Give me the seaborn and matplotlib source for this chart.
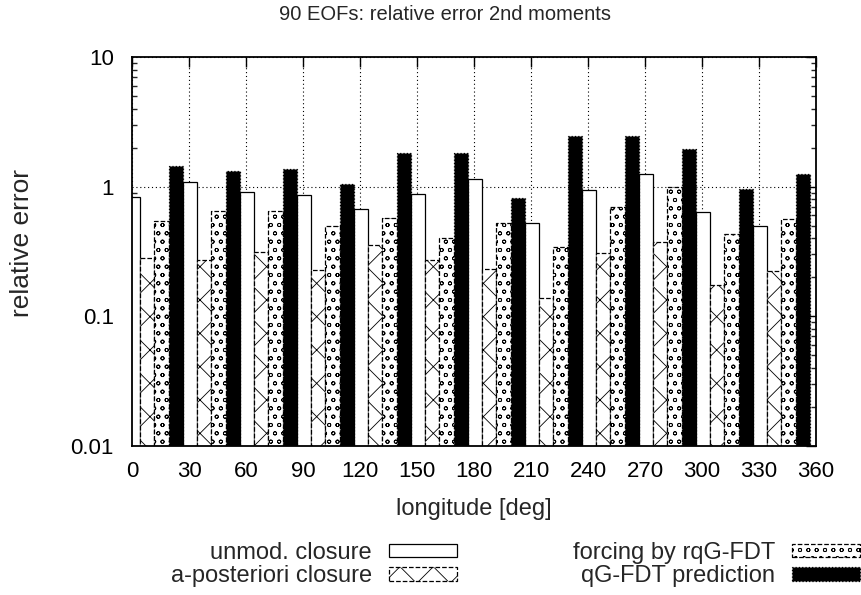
import numpy as np
import pandas as pd
import matplotlib
matplotlib.use("Agg")
import matplotlib.pyplot as plt
from matplotlib.patches import Patch
from matplotlib.ticker import LogLocator, NullFormatter, FixedLocator
import seaborn as sns

# ---- data ----
longitude = [0, 30, 60, 90, 120, 150, 180, 210, 240, 270, 300, 330]
unmod_closure = [0.83, 1.09, 0.915, 0.868, 0.673, 0.883, 1.146, 0.525, 0.948, 1.25, 0.638, 0.494]
aposteriori_closure = [0.28, 0.274, 0.313, 0.229, 0.355, 0.272, 0.232, 0.139, 0.308, 0.375, 0.175, 0.222]
forcing_rqg_fdt = [0.54, 0.65, 0.65, 0.50, 0.574, 0.40, 0.52, 0.344, 0.70, 0.99, 0.43, 0.567]
qg_fdt_prediction = [1.45, 1.33, 1.38, 1.054, 1.82, 1.83, 0.82, 2.47, 2.44, 1.94, 0.965, 1.26]
series_names = ["unmod. closure", "a-posteriori closure", "forcing by rqG-FDT", "qG-FDT prediction"]
x_ticks = [0, 30, 60, 90, 120, 150, 180, 210, 240, 270, 300, 330, 360]

series_values = [unmod_closure, aposteriori_closure, forcing_rqg_fdt, qg_fdt_prediction]
rows = []
for name, vals in zip(series_names, series_values):
    for lon, v in zip(longitude, vals):
        rows.append({"pos": lon + 11.75, "value": v, "series": name})
df = pd.DataFrame(rows)

sns.set_theme(style="white")
plt.rcParams["font.family"] = ["Liberation Sans", "DejaVu Sans"]
plt.rcParams["hatch.linewidth"] = 0.6

fig = plt.figure(figsize=(8.62, 5.95), dpi=100)
ax = fig.add_axes([132 / 862, 1 - 446 / 595, (816 - 132) / 862, (446 - 57) / 595])

ax.set_axisbelow(True)

sns.barplot(data=df, x="pos", y="value", hue="series", hue_order=series_names,
            native_scale=True, width=1.0, dodge=True, errorbar=None,
            palette=["white", "white", "white", "black"], saturation=1,
            legend=False, ax=ax)

styles = [
    dict(facecolor="white", edgecolor="black", hatch=None, linestyle="-"),
    dict(facecolor="white", edgecolor="black", hatch="x", linestyle="--"),
    dict(facecolor="white", edgecolor="black", hatch="oo", linestyle="--"),
    dict(facecolor="black", edgecolor="black", hatch=None, linestyle=":"),
]
for cont, st in zip(ax.containers, styles):
    for p in cont.patches:
        p.set_facecolor(st["facecolor"])
        p.set_edgecolor(st["edgecolor"])
        p.set_hatch(st["hatch"])
        p.set_linestyle(st["linestyle"])
        p.set_linewidth(0.9)

ax.set_yscale("log")
ax.set_ylim(0.01, 10)
ax.set_xlim(0, 360)
ax.xaxis.set_major_locator(FixedLocator(x_ticks))
ax.set_xticklabels([str(t) for t in x_ticks])
ax.yaxis.set_minor_locator(LogLocator(base=10, subs=np.arange(2, 10), numticks=20))
ax.yaxis.set_minor_formatter(NullFormatter())
ax.set_yticks([0.01, 0.1, 1, 10])
ax.set_yticklabels(["0.01", "0.1", "1", "10"])

ax.grid(True, which="major", color="black", linestyle=(0, (1, 2.5)), linewidth=0.8)
ax.tick_params(axis="both", which="major", direction="in", length=7, width=1,
               top=True, right=True, labelsize=16, colors="black")
ax.tick_params(axis="x", which="major", pad=11)
ax.tick_params(axis="y", which="major", pad=13)
ax.tick_params(axis="y", which="minor", direction="in", length=3.5, width=1,
               left=True, right=True)
for s in ax.spines.values():
    s.set_color("black")
    s.set_linewidth(1.3)
    s.set_zorder(5)

ax.set_xlabel("longitude [deg]", fontsize=17, labelpad=11)
ax.set_ylabel("relative error", fontsize=19, labelpad=26)
ax.yaxis.label.set_y((446 - 243) / 389)
fig.text(445 / 862, 1 - 14 / 595, "90 EOFs: relative error 2nd moments",
         ha="center", va="center", fontsize=14.5)

handles = [Patch(facecolor=st["facecolor"], edgecolor="black", hatch=st["hatch"],
                 linestyle=st["linestyle"], linewidth=0.9) for st in styles]
fig.legend(handles, series_names,
           ncol=2, markerfirst=False, frameon=False, fontsize=17,
           loc="upper right", bbox_to_anchor=(860 / 862, 1 - 542 / 595),
           borderaxespad=0, borderpad=0, handlelength=2.9, handleheight=0.5,
           handletextpad=0.7, labelspacing=0.05, columnspacing=4.9)

fig.savefig("out.png", dpi=100)
